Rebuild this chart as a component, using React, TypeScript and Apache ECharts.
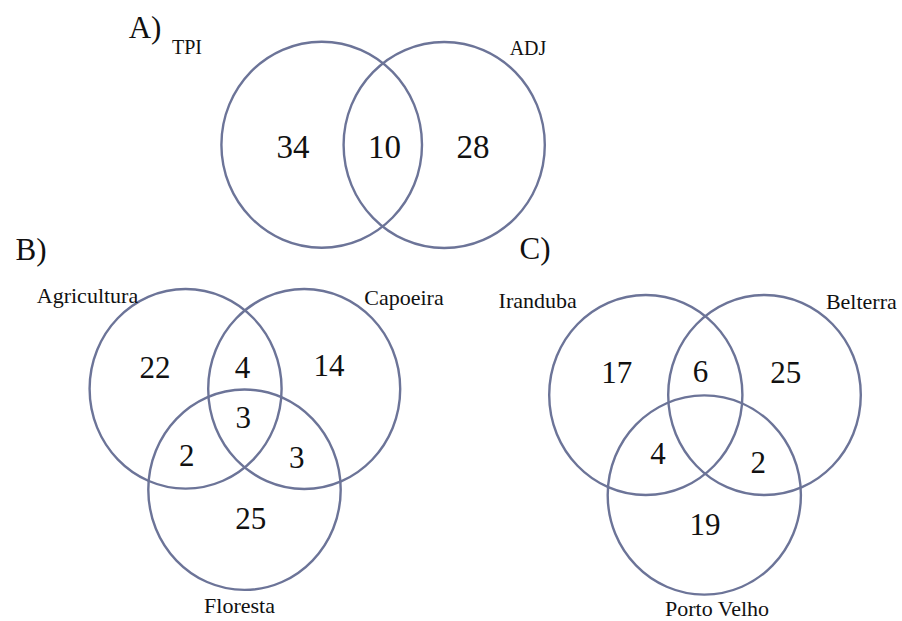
import React, { useEffect, useRef } from "react";
import * as echarts from "echarts";

// ---- Data: set names and region counts for each Venn panel ----
const panelTitles = ["A)", "B)", "C)"];

const setsA = ["TPI", "ADJ"];
const countsA = [34, 10, 28]; // TPI only, both, ADJ only

const setsB = ["Agricultura", "Capoeira", "Floresta"];
// Agric. only, Agric∩Cap, Cap only, all three, Agric∩Flor, Cap∩Flor, Flor only
const countsB = [22, 4, 14, 3, 2, 3, 25];

const setsC = ["Iranduba", "Belterra", "Porto Velho"];
// Iran. only, Iran∩Bel, Bel only, Iran∩PV, Bel∩PV, PV only (centre left blank)
const countsC = [17, 6, 25, 4, 2, 19];

// ---- Layout (page coordinates, y grows downward) ----
const titlePos = [
  [145, 27],
  [31, 249],
  [535, 248],
];

const circlesA = [
  [321.7, 144.7, 100.3, 103],
  [444.2, 145, 100.6, 103],
];
const circlesB = [
  [185.6, 388.8, 96, 99.8],
  [304.2, 389, 96, 100],
  [244.5, 489.7, 96.2, 100.2],
];
const circlesC = [
  [645.8, 395, 96.6, 100],
  [764.5, 395, 96.3, 100],
  [704.3, 495, 96.6, 99.6],
];

const setLabelPosA = [
  [187, 47],
  [528, 48],
];
const setLabelPosB = [
  [87.5, 295],
  [404, 297],
  [239.5, 605],
];
const setLabelPosC = [
  [537.7, 300],
  [861.3, 301.7],
  [717, 608],
];

const countPosA = [
  [293, 147],
  [384.5, 147],
  [473, 147],
];
const countPosB = [
  [155, 367],
  [242.5, 367.7],
  [329, 365.3],
  [243.3, 417],
  [186.7, 455],
  [296.7, 457],
  [250.8, 518.8],
];
const countPosC = [
  [616.7, 372.5],
  [700.5, 371.3],
  [785.8, 372.5],
  [658, 453.3],
  [758.3, 462],
  [705, 524.2],
];

const W = 902;
const H = 621;
const STROKE = "#6c7498";
const SERIF = "Liberation Serif";

type TextItem = [number, number, string, number];

function textSeries(items: TextItem[]) {
  return {
    type: "custom",
    coordinateSystem: "cartesian2d",
    silent: true,
    clip: false,
    data: items.map((d) => [d[0], d[1]]),
    renderItem: (params: any, api: any) => {
      const item = items[params.dataIndex];
      const p = api.coord([api.value(0), api.value(1)]);
      return {
        type: "text",
        x: p[0],
        y: p[1],
        style: {
          text: item[2],
          fontFamily: SERIF,
          fontSize: item[3],
          fill: "#111111",
          align: "center",
          verticalAlign: "middle",
        },
      };
    },
  };
}

function circleSeries(circles: number[][]) {
  return {
    type: "custom",
    coordinateSystem: "cartesian2d",
    silent: true,
    clip: false,
    data: circles.map((c) => [c[0], c[1], c[2], c[3]]),
    renderItem: (_params: any, api: any) => {
      const c = api.coord([api.value(0), api.value(1)]);
      const s = api.size([api.value(2), api.value(3)]);
      return {
        type: "ellipse",
        shape: { cx: c[0], cy: c[1], rx: s[0], ry: s[1] },
        style: { fill: "none", stroke: STROKE, lineWidth: 2.4 },
      };
    },
  };
}

export default function App() {
  const ref = useRef<HTMLDivElement>(null);

  useEffect(() => {
    if (!ref.current) return;
    const chart = echarts.init(ref.current, null, { renderer: "svg" });

    const titles: TextItem[] = panelTitles.map((t, i) => [
      titlePos[i][0],
      titlePos[i][1],
      t,
      31,
    ]);
    const setLabels: TextItem[] = [
      ...setsA.map((n, i) => [setLabelPosA[i][0], setLabelPosA[i][1], n, 20] as TextItem),
      ...setsB.map((n, i) => [setLabelPosB[i][0], setLabelPosB[i][1], n, 22] as TextItem),
      ...setsC.map((n, i) => [setLabelPosC[i][0], setLabelPosC[i][1], n, 22] as TextItem),
    ];
    const counts: TextItem[] = [
      ...countsA.map((v, i) => [countPosA[i][0], countPosA[i][1], String(v), 33] as TextItem),
      ...countsB.map((v, i) => [countPosB[i][0], countPosB[i][1], String(v), 31] as TextItem),
      ...countsC.map((v, i) => [countPosC[i][0], countPosC[i][1], String(v), 31] as TextItem),
    ];

    chart.setOption({
      animation: false,
      backgroundColor: "#ffffff",
      grid: { left: 0, right: 0, top: 0, bottom: 0 },
      xAxis: { type: "value", min: 0, max: W, show: false },
      yAxis: { type: "value", min: 0, max: H, inverse: true, show: false },
      series: [
        circleSeries(circlesA),
        circleSeries(circlesB),
        circleSeries(circlesC),
        textSeries(titles),
        textSeries(setLabels),
        textSeries(counts),
      ],
    });

    return () => chart.dispose();
  }, []);

  return (
    <div
      ref={ref}
      style={{ position: "fixed", left: 0, top: 0, width: W, height: H, background: "#fff" }}
    />
  );
}
